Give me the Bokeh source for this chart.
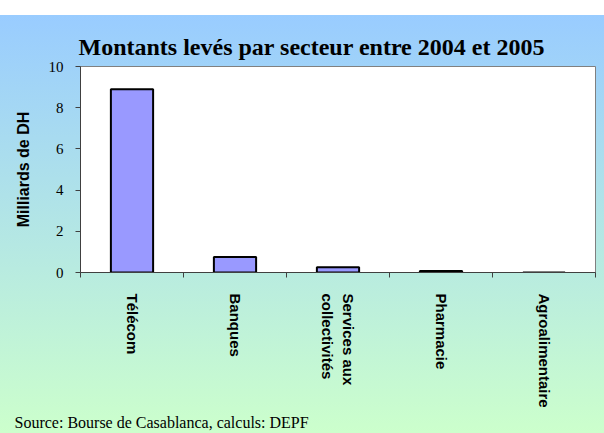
import math
from bokeh.plotting import figure
from bokeh.models import FixedTicker, Range1d, Title, ColumnDataSource
from bokeh.embed import file_html
from bokeh.resources import INLINE

title_text = "Montants levés par secteur entre 2004 et 2005"
categories = ["Télécom", "Banques", "Services aux\ncollectivités", "Pharmacie", "Agroalimentaire"]
values = [8.9, 0.75, 0.26, 0.07, 0.0]
y_ticks = [0, 2, 4, 6, 8, 10]
y_label = "Milliards de DH"
source_text = "Source: Bourse de Casablanca, calculs: DEPF"

xs = [i + 0.5 for i in range(len(categories))]
src = ColumnDataSource(dict(x=xs, top=values))

p = figure(width=604, height=433, output_backend="svg", toolbar_location=None,
           x_range=Range1d(0, len(categories)), y_range=Range1d(0, 10),
           min_border_left=80, min_border_right=9, min_border_top=66, min_border_bottom=161)

p.styles = {"background": "linear-gradient(to bottom, #ffffff 0px, #ffffff 15px, #99CCFF 15px, #CCFFCC 100%)"}
p.border_fill_color = None
p.background_fill_color = "white"
p.outline_line_color = "#808080"
p.outline_line_width = 1

p.vbar(x="x", top="top", width=0.41, source=src, fill_color="#9999FF",
       line_color="black", line_width=2)

p.xgrid.visible = False
p.ygrid.visible = False

# y axis
p.yaxis.ticker = FixedTicker(ticks=y_ticks)
p.yaxis.major_tick_out = 5
p.yaxis.major_tick_in = 0
p.yaxis.minor_tick_out = 0
p.yaxis.minor_tick_in = 0
p.yaxis.axis_line_color = "#404040"
p.yaxis.major_tick_line_color = "#404040"
p.yaxis.major_label_text_font = "Liberation Serif"
p.yaxis.major_label_text_font_size = "15px"
p.yaxis.major_label_text_color = "black"
p.yaxis.major_label_standoff = 12
p.yaxis.axis_label = y_label
p.yaxis.axis_label_text_font = "Liberation Sans"
p.yaxis.axis_label_text_font_style = "bold"
p.yaxis.axis_label_text_font_size = "16px"
p.yaxis.axis_label_text_color = "black"
p.yaxis.axis_label_standoff = 14

# x axis
p.xaxis.ticker = FixedTicker(ticks=xs, minor_ticks=list(range(len(categories) + 1)))
p.xaxis.major_label_overrides = {x: c for x, c in zip(xs, categories)}
p.xaxis.major_tick_out = 0
p.xaxis.major_tick_in = 0
p.xaxis.minor_tick_out = 5
p.xaxis.minor_tick_in = 0
p.xaxis.axis_line_color = "#404040"
p.xaxis.minor_tick_line_color = "#404040"
p.xaxis.major_label_orientation = -math.pi / 2
p.xaxis.major_label_standoff = 16
p.xaxis.major_label_text_font = "Liberation Sans"
p.xaxis.major_label_text_font_style = "bold"
p.xaxis.major_label_text_font_size = "15px"
p.xaxis.major_label_text_color = "black"

# title
p.title.text = title_text
p.title.align = "left"
p.title.offset = -2
p.title.text_font = "Liberation Serif"
p.title.text_font_style = "bold"
p.title.text_font_size = "24px"
p.title.text_color = "black"
p.title.standoff = 13

src_title = Title(text=source_text, align="left", offset=-66, standoff=3,
                  text_font="Liberation Serif", text_font_style="normal",
                  text_font_size="16px", text_color="black")
p.add_layout(src_title, "below")

open("out.html", "w").write(file_html(p, INLINE))
